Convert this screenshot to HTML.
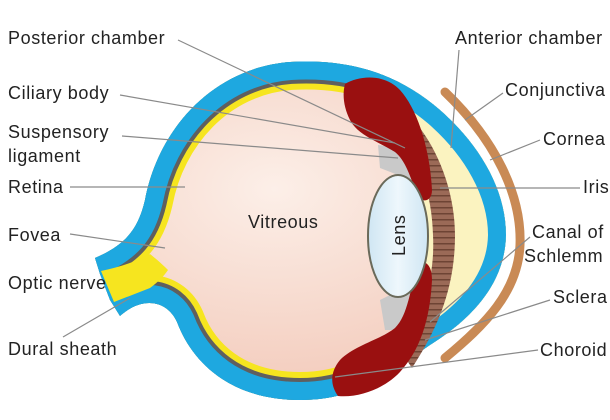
<!DOCTYPE html>
<html><head><meta charset="utf-8"><style>
html,body{margin:0;padding:0;background:#fff;}
svg{display:block;}
text{font-family:"Liberation Sans",Arial,sans-serif;font-size:18px;letter-spacing:0.6px;fill:#222;}
</style></head><body>
<svg width="610" height="420" viewBox="0 0 610 420" xmlns="http://www.w3.org/2000/svg">
<defs>
<radialGradient id="vit" cx="0.45" cy="0.45" r="0.6">
<stop offset="0" stop-color="#fcefe8"/><stop offset="1" stop-color="#f1c3b2"/>
</radialGradient>
<linearGradient id="lens" x1="0" y1="0" x2="1" y2="0">
<stop offset="0" stop-color="#cfe6f3"/><stop offset="0.5" stop-color="#eef7fc"/><stop offset="1" stop-color="#cfe6f3"/>
</linearGradient>
<pattern id="irisP" width="30" height="6" patternUnits="userSpaceOnUse">
<rect width="30" height="6" fill="#9b6a57"/><rect y="3" width="30" height="1.5" fill="#6e4434"/>
</pattern>
<clipPath id="gc"><path id="gp" d="M95,258 C125,245 138,230 145,200 C158,130 212,68 290,62 C360,58 405,80 440,110 C480,145 506,190 506,235 C505,285 470,320 430,345 C390,372 360,400 300,400 C230,400 192,362 177,322 C167,300 142,296 120,316 L110,300 L100,274 Z"/></clipPath>
</defs>
<g clip-path="url(#gc)">
<rect x="0" y="0" width="610" height="420" fill="url(#vit)"/>
<use href="#gp" fill="none" stroke="#f6e51f" stroke-width="56"/>
<use href="#gp" fill="none" stroke="#5f5f5f" stroke-width="44"/>
<use href="#gp" fill="none" stroke="#1ea8e0" stroke-width="30"/>
<path d="M400,80 L530,80 L530,390 L400,390 Z" fill="#fbf3c0"/>
<use href="#gp" fill="none" stroke="#1ea8e0" stroke-width="36"/>
</g>
<path d="M101,271 L114,302 L150,288 C158,282 164,276 168,270 C160,262 155,258 150,254 C135,262 120,267 101,271 Z" fill="#f6e51f"/>
<path d="M412,118 C440,150 455,195 455,235 C455,285 440,325 412,368 L400,350 C425,310 435,275 433,235 C432,195 420,160 400,135 Z" fill="url(#irisP)"/>
<path d="M378,145 L415,150 L425,200 L415,205 L398,175 L380,168 Z" fill="#c9c9c9"/>
<path d="M380,300 L400,290 L420,272 L425,300 L410,330 L385,330 Z" fill="#c9c9c9"/>
<path d="M345,84 C360,75 385,74 400,90 C418,110 430,150 432,190 C432,200 425,203 418,198 C410,175 405,160 395,152 C375,140 358,135 350,120 C344,108 342,95 345,84 Z" fill="#9a1010"/>
<path d="M418,262 C428,260 432,268 432,280 C430,320 420,350 400,372 C385,388 360,398 338,396 C330,385 330,372 340,360 C355,345 380,340 395,328 C408,315 410,290 418,262 Z" fill="#9a1010"/>
<ellipse cx="398" cy="236" rx="30" ry="61" fill="url(#lens)" stroke="#6a6a5a" stroke-width="2"/>
<text x="0" y="0" transform="translate(405,256) rotate(-90)">Lens</text>
<path d="M445,92 C495,140 522,195 520,245 C518,292 485,325 445,358" fill="none" stroke="#c98a55" stroke-width="9" stroke-linecap="round"/>
<text x="248" y="228">Vitreous</text>
<g stroke="#8a8a8a" stroke-width="1.2" fill="none">
<line x1="178" y1="40" x2="405" y2="148"/>
<line x1="120" y1="95" x2="395" y2="143"/>
<line x1="122" y1="136" x2="398" y2="158"/>
<line x1="70" y1="187" x2="185" y2="187"/>
<line x1="70" y1="234" x2="165" y2="248"/>
<line x1="63" y1="337" x2="130" y2="298"/>
<line x1="459" y1="50" x2="451" y2="148"/>
<line x1="503" y1="93" x2="465" y2="120"/>
<line x1="540" y1="140" x2="490" y2="160"/>
<line x1="580" y1="188" x2="440" y2="188"/>
<line x1="530" y1="237" x2="430" y2="322"/>
<line x1="550" y1="300" x2="425" y2="340"/>
<line x1="538" y1="350" x2="335" y2="377"/>
</g>
<text x="8" y="44">Posterior chamber</text>
<text x="8" y="99">Ciliary body</text>
<text x="8" y="138">Suspensory</text>
<text x="8" y="162">ligament</text>
<text x="8" y="193">Retina</text>
<text x="8" y="241">Fovea</text>
<text x="8" y="289">Optic nerve</text>
<text x="8" y="355">Dural sheath</text>
<text x="455" y="44">Anterior chamber</text>
<text x="505" y="96">Conjunctiva</text>
<text x="543" y="145">Cornea</text>
<text x="583" y="193">Iris</text>
<text x="532" y="238">Canal of</text>
<text x="524" y="262">Schlemm</text>
<text x="553" y="303">Sclera</text>
<text x="540" y="356">Choroid</text>
</svg>
</body></html>
